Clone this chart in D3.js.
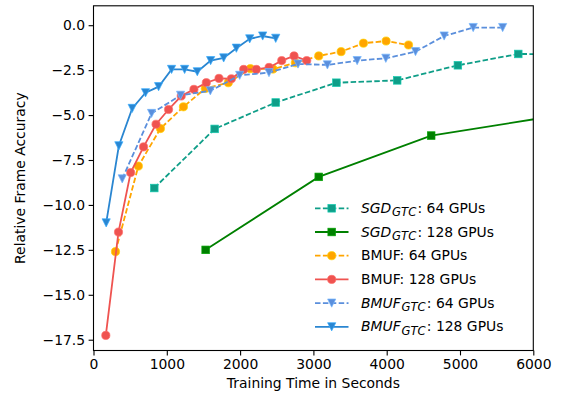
<!DOCTYPE html>
<html>
<head>
<meta charset="utf-8">
<script src="https://cdn.jsdelivr.net/npm/d3@7"></script>
<style>
  body { margin: 0; background: #fff; }
  text { font-family: "DejaVu Sans", sans-serif; fill: #000; }
</style>
</head>
<body>
<svg id="chart" width="568" height="398"></svg>
<script>
// values
const sgd64X = [829, 1653, 2486, 3314, 4143, 4971, 5795, 6620];
const sgd64Y = [-9.06, -5.77, -4.3, -3.2, -3.07, -2.23, -1.6, -1.62];

const sgd128X = [1530, 3073, 4607, 6140];
const sgd128Y = [-12.5, -8.44, -6.14, -5.15];

const bmuf64X = [300, 612, 913, 1227, 1525, 1839, 2140, 2449, 2754, 3073, 3378, 3683, 3992, 4298];
const bmuf64Y = [-12.6, -7.84, -5.75, -4.54, -3.52, -3.2, -2.42, -2.44, -2.09, -1.71, -1.47, -1.0, -0.88, -1.1];

const bmuf128X = [168, 341, 507, 683, 853, 1024, 1197, 1370, 1539, 1712, 1881, 2049, 2222, 2395, 2568, 2736, 2909];
const bmuf128Y = [-17.26, -11.51, -8.2, -6.77, -5.51, -4.69, -3.94, -3.57, -3.2, -2.96, -2.98, -2.46, -2.46, -2.35, -1.97, -1.71, -1.97];

const gtc64X = [392, 792, 1188, 1594, 1994, 2394, 2790, 3191, 3597, 3988, 4393, 4784, 5180, 5582];
const gtc64Y = [-8.55, -4.91, -3.9, -3.65, -2.79, -2.64, -2.16, -2.21, -1.97, -1.84, -1.47, -0.6, -0.13, -0.13];

const gtc128X = [173, 346, 528, 710, 888, 1065, 1243, 1416, 1598, 1776, 1949, 2131, 2308, 2486];
const gtc128Y = [-11.0, -6.71, -4.63, -3.76, -3.42, -2.46, -2.46, -2.59, -1.97, -1.82, -1.28, -0.76, -0.6, -0.73];

const xTicks = [0, 1000, 2000, 3000, 4000, 5000, 6000];
const yTicks = [0, -2.5, -5, -7.5, -10, -12.5, -15, -17.5];

const series = [
    { base: "SGD", sub: "GTC", rest: ": 64 GPUs", xs: sgd64X, ys: sgd64Y, color: "#0f9e88", dash: true, marker: "square" },
    { base: "SGD", sub: "GTC", rest: ": 128 GPUs", xs: sgd128X, ys: sgd128Y, color: "#008000", dash: false, marker: "square" },
    { base: "BMUF", sub: null, rest: ": 64 GPUs", xs: bmuf64X, ys: bmuf64Y, color: "#ffa500", dash: true, marker: "circle" },
    { base: "BMUF", sub: null, rest: ": 128 GPUs", xs: bmuf128X, ys: bmuf128Y, color: "#ef5350", dash: false, marker: "circle" },
    { base: "BMUF", sub: "GTC", rest: ": 64 GPUs", xs: gtc64X, ys: gtc64Y, color: "#5b8fdc", dash: true, marker: "tri" },
    { base: "BMUF", sub: "GTC", rest: ": 128 GPUs", xs: gtc128X, ys: gtc128Y, color: "#2a86d1", dash: false, marker: "tri" }
];

const box = { left: 93.5, right: 533.3, top: 5.8, bottom: 350.5 };
const fontSize = 13.9;
const ms = 8.2;

const svg = d3.select("#chart");

const x = d3.scaleLinear().domain([0, 6000]).range([box.left, box.right]);
const y = d3.scaleLinear().domain([-18.1, 1.08]).range([box.bottom, box.top]);

svg.append("defs")
    .append("clipPath")
    .attr("id", "plotClip")
    .append("rect")
    .attr("x", box.left)
    .attr("y", box.top)
    .attr("width", box.right - box.left)
    .attr("height", box.bottom - box.top);

const drawMarker = function(g, kind, cx, cy, color) {
    let edge = d3.color(color).brighter(0.7).formatHex();
    let r = ms / 2;
    let m;
    if (kind === "square") {
        m = g.append("rect")
            .attr("x", cx - r + 0.3)
            .attr("y", cy - r + 0.3)
            .attr("width", ms - 0.6)
            .attr("height", ms - 0.6);
    } else if (kind === "circle") {
        m = g.append("circle").attr("cx", cx).attr("cy", cy).attr("r", r);
    } else {
        m = g.append("path")
            .attr("d", "M" + (cx - r) + "," + (cy - r) + "L" + (cx + r) + "," + (cy - r) + "L" + cx + "," + (cy + r) + "Z");
    }
    m.style("fill", color).style("stroke", edge).style("stroke-width", 0.7);
};

const line = d3.line().x(d => x(d[0])).y(d => y(d[1]));

const plot = svg.append("g").attr("clip-path", "url(#plotClip)");

series.forEach(function(s) {
    let pts = s.xs.map((v, i) => [v, s.ys[i]]);
    let g = plot.append("g");
    g.append("path")
        .datum(pts)
        .attr("d", line)
        .style("fill", "none")
        .style("stroke", s.color)
        .style("stroke-width", 1.8)
        .style("stroke-dasharray", s.dash ? "5.5,2.4" : null);
    pts.forEach(function(p) {
        drawMarker(g, s.marker, x(p[0]), y(p[1]), s.color);
    });
});

// axes
const fmtY = d3.format(".1f");

const xAxis = svg.append("g")
    .attr("transform", "translate(0," + box.bottom + ")")
    .call(d3.axisBottom(x).tickValues(xTicks).tickFormat(d3.format("d")).tickSizeOuter(0).tickSize(4.9).tickPadding(3.5));

const yAxis = svg.append("g")
    .attr("transform", "translate(" + box.left + ",0)")
    .call(d3.axisLeft(y).tickValues(yTicks).tickFormat(fmtY).tickSizeOuter(0).tickSize(4.9).tickPadding(3.5));

[xAxis, yAxis].forEach(function(a) {
    a.select(".domain").remove();
    a.selectAll(".tick line").style("stroke", "#000").style("stroke-width", 1.1);
    a.selectAll(".tick text")
        .style("font-family", "DejaVu Sans, sans-serif")
        .style("font-size", fontSize + "px")
        .style("fill", "#000");
});

svg.append("rect")
    .attr("x", box.left)
    .attr("y", box.top)
    .attr("width", box.right - box.left)
    .attr("height", box.bottom - box.top)
    .style("fill", "none")
    .style("stroke", "#000")
    .style("stroke-width", 1.1);

svg.append("text")
    .attr("x", (box.left + box.right) / 2)
    .attr("y", 388)
    .attr("text-anchor", "middle")
    .style("font-size", fontSize + "px")
    .text("Training Time in Seconds");

svg.append("text")
    .attr("transform", "translate(25," + (box.top + box.bottom) / 2 + ") rotate(-90)")
    .attr("text-anchor", "middle")
    .style("font-size", fontSize + "px")
    .text("Relative Frame Accuracy");

// legend
const legend = svg.append("g");
series.forEach(function(s, i) {
    let cy = 208.3 + i * 23.7;
    legend.append("line")
        .attr("x1", 315)
        .attr("x2", 348.5)
        .attr("y1", cy)
        .attr("y2", cy)
        .style("stroke", s.color)
        .style("stroke-width", 1.8)
        .style("stroke-dasharray", s.dash ? "5.5,2.4" : null);
    drawMarker(legend, s.marker, 331.7, cy, s.color);

    let t = legend.append("text")
        .attr("x", 361)
        .attr("y", cy + 4.5)
        .style("font-size", fontSize + "px");
    if (s.sub) {
        t.append("tspan").style("font-style", "italic").text(s.base);
        t.append("tspan")
            .style("font-style", "italic")
            .style("font-size", "11.6px")
            .attr("dx", 0.8)
            .attr("dy", 3.2)
            .text(s.sub);
        t.append("tspan").attr("dx", 1.2).attr("dy", -3.2).text(s.rest);
    } else {
        t.append("tspan").text(s.base + s.rest);
    }
});
</script>
</body>
</html>
